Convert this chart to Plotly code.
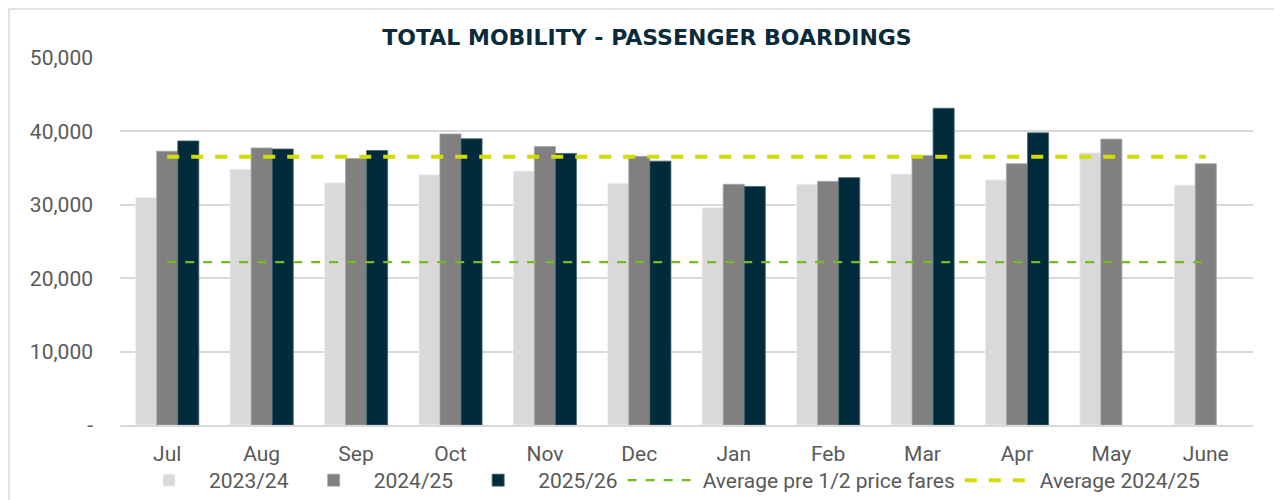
import plotly.graph_objects as go

months = ["Jul", "Aug", "Sep", "Oct", "Nov", "Dec", "Jan", "Feb", "Mar", "Apr", "May", "June"]
fy2324 = [31000, 34850, 33000, 34100, 34600, 32950, 29600, 32800, 34200, 33400, 37100, 32700]
fy2425 = [37300, 37750, 36300, 39650, 37950, 36600, 32800, 33200, 36700, 35600, 38950, 35600]
fy2526 = [38700, 37600, 37400, 39000, 37000, 35950, 32500, 33700, 43150, 39800, None, None]
avg_pre_half = [22200] * len(months)
avg_2425 = [36550] * len(months)

ytick_vals = [0, 10000, 20000, 30000, 40000, 50000]
ytick_text = ["-", "10,000", "20,000", "30,000", "40,000", "50,000"]

FONT = "Roboto, sans-serif"
# page body adds an 8px offset; margins below compensate
ML, MR, MT, MB = 112, 37, 50, 83
PLOT_W = 1282 - ML - MR
PLOT_H = 500 - MT - MB

fig = go.Figure()
fig.add_trace(go.Bar(name="2023/24", x=months, y=fy2324, marker=dict(color="#D9D9D9", line=dict(color="#F2F2F2", width=0.8))))
fig.add_trace(go.Bar(name="2024/25", x=months, y=fy2425, marker=dict(color="#808080", line=dict(color="#A6A6A6", width=0.8))))
fig.add_trace(go.Bar(name="2025/26", x=months, y=fy2526, marker=dict(color="#002B3A", line=dict(color="#4A6470", width=0.8))))
fig.add_trace(go.Scatter(name="Average pre 1/2 price fares", x=months, y=avg_pre_half, mode="lines",
                         line=dict(color="#76BC21", width=2.2, dash="dash")))
fig.add_trace(go.Scatter(name="Average 2024/25", x=months, y=avg_2425, mode="lines",
                         line=dict(color="#D2DC00", width=4, dash="dash")))

fig.update_layout(
    width=1282, height=500,
    paper_bgcolor="white", plot_bgcolor="white",
    margin=dict(l=ML, r=MR, t=MT, b=MB, autoexpand=False),
    barmode="group", bargap=0.33, bargroupgap=0,
    title=dict(text="<b>TOTAL MOBILITY - PASSENGER BOARDINGS</b>", x=639 / 1282, xanchor="center",
               y=1 - 29 / 500, yanchor="middle", automargin=False,
               font=dict(family="DejaVu Sans, sans-serif", size=22, color="#0B2B3A")),
    font=dict(family=FONT, color="#595959", size=21),
    showlegend=True,
    legend=dict(orientation="h", x=(659 - ML) / PLOT_W, xanchor="center",
                y=-35 / PLOT_H, yanchor="top",
                font=dict(family=FONT, size=21, color="#595959"), itemwidth=70,
                traceorder="normal", bgcolor="rgba(0,0,0,0)"),
    xaxis=dict(showgrid=False, showline=True, linecolor="#D9D9D9", linewidth=2, automargin=False,
               tickfont=dict(family=FONT, size=21, color="#595959"), ticks="", ticklabelstandoff=9),
    yaxis=dict(range=[0, 50000], tickvals=ytick_vals, ticktext=ytick_text, automargin=False,
               showgrid=True, gridcolor="#D9D9D9", gridwidth=1.5, zeroline=False,
               tickfont=dict(family=FONT, size=21, color="#595959"), ticks="", ticklabelstandoff=26),
    shapes=[dict(type="rect", xref="paper", yref="paper",
                 x0=-(ML - 1) / PLOT_W, x1=1 + (MR + 5) / PLOT_W,
                 y0=-(MB + 5) / PLOT_H, y1=1 + (MT - 1) / PLOT_H,
                 line=dict(color="#D9D9D9", width=1.5), fillcolor="rgba(0,0,0,0)", layer="below")],
)

fig.write_html("out.html")
